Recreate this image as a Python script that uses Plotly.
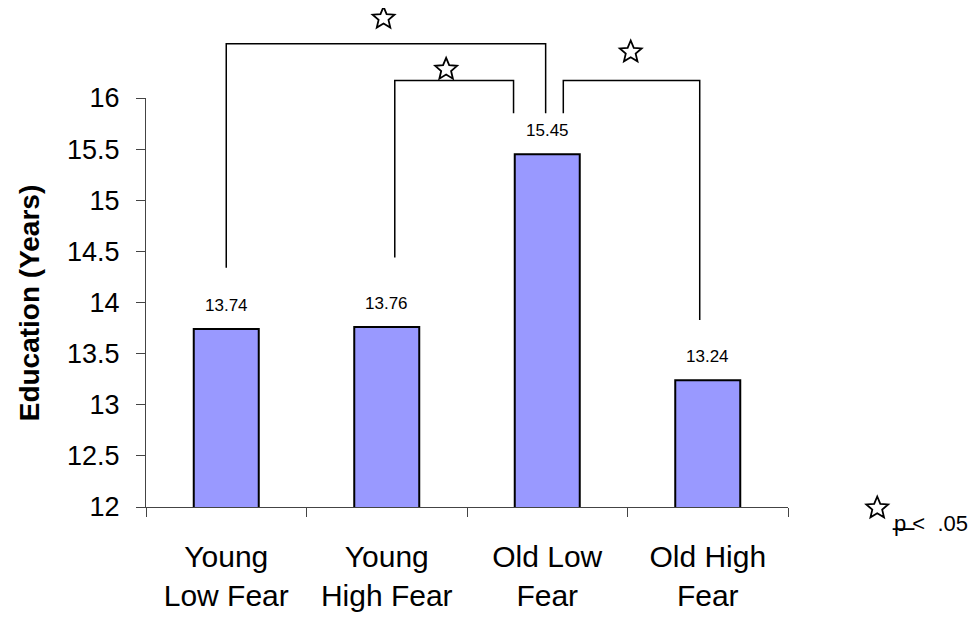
import math
import plotly.graph_objects as go

categories = ["Young<br>Low Fear", "Young<br>High Fear", "Old Low<br>Fear", "Old High<br>Fear"]
values = [13.74, 13.76, 15.45, 13.24]
value_labels = ["13.74", "13.76", "15.45", "13.24"]
y_ticks = [12, 12.5, 13, 13.5, 14, 14.5, 15, 15.5, 16]
y_tick_labels = ["12", "12.5", "13", "13.5", "14", "14.5", "15", "15.5", "16"]

Y_MIN, Y_MAX = 12, 16
N = len(categories)

# significance brackets: (category index, value) vertices
brackets = [
    [(0.0, 14.34), (0.0, 16.53), (1.99, 16.53), (1.99, 15.85)],
    [(1.05, 14.44), (1.05, 16.17), (1.79, 16.17), (1.79, 15.85)],
    [(2.10, 15.85), (2.10, 16.17), (2.95, 16.17), (2.95, 13.83)],
]
# significance stars (category index, value); last one is the key star
star_x = [0.98, 1.37, 2.52, 4.056]
star_y = [16.78, 16.28, 16.45, 11.99]

FONT = "Arial, Liberation Sans, sans-serif"
PLOT_W, PLOT_H = 642, 409


def px(i):
    return (i + 0.5) / N


def py(v):
    return (v - Y_MIN) / (Y_MAX - Y_MIN)


def star_path(cx, cy, r_out=11.5, r_in=5.2):
    pts = []
    for k in range(10):
        r = r_out if k % 2 == 0 else r_in
        a = math.pi / 2 + k * math.pi / 5
        pts.append((cx + r * math.cos(a) / PLOT_W, cy + r * math.sin(a) / PLOT_H))
    return "M " + " L ".join(f"{x:.5f},{y:.5f}" for x, y in pts) + " Z"


fig = go.Figure()
fig.add_trace(go.Bar(
    x=categories, y=values,
    marker=dict(color="#9999FF", line=dict(color="black", width=2)),
    hoverinfo="skip",
))

for cat, v, lab in zip(categories, values, value_labels):
    fig.add_annotation(x=cat, y=v, xref="x", yref="y", text=lab, showarrow=False,
                       yanchor="middle", yshift=24, font=dict(size=17, color="black", family=FONT))

for br in brackets:
    path = "M " + " L ".join(f"{px(i):.4f},{py(v):.4f}" for i, v in br)
    fig.add_shape(type="path", path=path, xref="paper", yref="paper",
                  line=dict(color="black", width=1.5))

for i, v in zip(star_x, star_y):
    fig.add_shape(type="path", path=star_path(px(i), py(v)), xref="paper", yref="paper",
                  line=dict(color="black", width=1.8), fillcolor="white")

fig.add_annotation(x=1.162, y=-0.040, xref="paper", yref="paper", text="p <  .05", showarrow=False,
                   xanchor="left", yanchor="middle", font=dict(size=22, color="black", family=FONT))
fig.add_shape(type="line", xref="paper", yref="paper", x0=1.163, x1=1.197, y0=-0.054, y1=-0.054,
              line=dict(color="black", width=1.8))

fig.add_annotation(x=-0.181, y=0.5, xref="paper", yref="paper", text="<b>Education (Years)</b>",
                   textangle=-90, showarrow=False, xanchor="center", yanchor="middle",
                   font=dict(size=28, color="black", family=FONT))

fig.update_layout(
    width=971, height=609,
    margin=dict(l=138, r=191, t=90, b=110, autoexpand=False),
    paper_bgcolor="white", plot_bgcolor="white",
    bargap=0.595,
    showlegend=False,
    font=dict(family=FONT, color="black"),
    xaxis=dict(
        type="category", tickson="boundaries", ticks="outside", ticklen=9, tickcolor="#444",
        showline=True, linecolor="#444", linewidth=1, showgrid=False, automargin=False,
        tickfont=dict(size=30, color="black", family=FONT), ticklabelstandoff=23,
    ),
    yaxis=dict(
        range=[Y_MIN, Y_MAX], tickvals=y_ticks, ticktext=y_tick_labels,
        ticks="outside", ticklen=9, tickcolor="#444", automargin=False,
        showline=True, linecolor="#444", linewidth=1, showgrid=False, zeroline=False,
        tickfont=dict(size=27, color="black", family=FONT), ticklabelstandoff=11,
    ),
)

fig.write_html("out.html")
